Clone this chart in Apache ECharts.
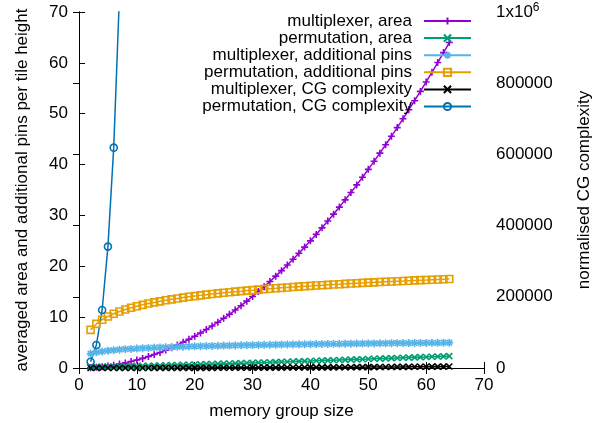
<!DOCTYPE html>
<html>
<head>
<meta charset="utf-8">
<script src="https://cdn.jsdelivr.net/npm/echarts@6/dist/echarts.min.js"></script>
<style>
  html, body { margin: 0; padding: 0; background: #fff; }
  #chart { width: 608px; height: 423px; }
</style>
</head>
<body>
<div id="chart"></div>
<script>
// memory group size
const groupSize = [2, 3, 4, 5, 6, 7, 8, 9, 10, 11, 12, 13, 14, 15, 16, 17, 18, 19, 20,
  21, 22, 23, 24, 25, 26, 27, 28, 29, 30, 31, 32, 33, 34, 35, 36, 37, 38, 39, 40,
  41, 42, 43, 44, 45, 46, 47, 48, 49, 50, 51, 52, 53, 54, 55, 56, 57, 58, 59, 60,
  61, 62, 63, 64]

const muxArea = [0.06, 0.14, 0.25, 0.39, 0.56, 0.77, 1.0, 1.27, 1.56, 1.89, 2.25, 2.64, 3.06,
  3.52, 4.0, 4.52, 5.06, 5.64, 6.25, 6.89, 7.56, 8.27, 9.0, 9.77, 10.56, 11.39, 12.25,
  13.14, 14.06, 15.02, 16.0, 17.02, 18.06, 19.14, 20.25, 21.39, 22.56, 23.77, 25.0,
  26.27, 27.56, 28.89, 30.25, 31.64, 33.06, 34.52, 36.0, 37.52, 39.06, 40.64, 42.25,
  43.89, 45.56, 47.27, 49.0, 50.77, 52.56, 54.39, 56.25, 58.14, 60.06, 62.02, 64.0]

const permArea = [0.21, 0.23, 0.24, 0.26, 0.29, 0.31, 0.33, 0.36, 0.38, 0.41, 0.44, 0.47,
  0.5, 0.53, 0.56, 0.59, 0.62, 0.65, 0.68, 0.71, 0.75, 0.78, 0.81, 0.85, 0.88, 0.91,
  0.95, 0.98, 1.02, 1.05, 1.09, 1.12, 1.16, 1.2, 1.23, 1.27, 1.31, 1.35, 1.38, 1.42,
  1.46, 1.5, 1.53, 1.57, 1.61, 1.65, 1.69, 1.73, 1.77, 1.81, 1.85, 1.89, 1.93, 1.97,
  2.01, 2.05, 2.09, 2.13, 2.17, 2.21, 2.25, 2.29, 2.33]

const muxPins = [2.83, 3.08, 3.26, 3.4, 3.51, 3.61, 3.69, 3.76, 3.83, 3.89, 3.94, 3.99, 4.04,
  4.08, 4.12, 4.16, 4.19, 4.23, 4.26, 4.29, 4.32, 4.35, 4.37, 4.4, 4.42, 4.44, 4.47,
  4.49, 4.51, 4.53, 4.55, 4.57, 4.59, 4.61, 4.62, 4.64, 4.66, 4.67, 4.69, 4.7, 4.72,
  4.73, 4.75, 4.76, 4.78, 4.79, 4.8, 4.81, 4.83, 4.84, 4.85, 4.86, 4.87, 4.89, 4.9,
  4.91, 4.92, 4.93, 4.94, 4.95, 4.96, 4.97, 4.98]

const permPins = [7.5, 8.67, 9.5, 10.14, 10.67, 11.11, 11.5, 11.84, 12.14, 12.42, 12.67, 12.9,
  13.11, 13.31, 13.5, 13.67, 13.84, 14.0, 14.14, 14.28, 14.42, 14.55, 14.67, 14.79,
  14.9, 15.01, 15.11, 15.22, 15.31, 15.41, 15.5, 15.59, 15.67, 15.76, 15.84, 15.92,
  16.0, 16.07, 16.14, 16.22, 16.28, 16.35, 16.42, 16.48, 16.55, 16.61, 16.67, 16.73,
  16.79, 16.84, 16.9, 16.96, 17.01, 17.06, 17.11, 17.17, 17.22, 17.27, 17.31, 17.36,
  17.41, 17.45, 17.5]

// right axis (normalised CG complexity)
const muxCG = [4, 9, 16, 25, 36, 49, 64, 81, 100, 121, 144, 169, 196, 225, 256, 289, 324,
  361, 400, 441, 484, 529, 576, 625, 676, 729, 784, 841, 900, 961, 1024, 1089, 1156,
  1225, 1296, 1369, 1444, 1521, 1600, 1681, 1764, 1849, 1936, 2025, 2116, 2209, 2304,
  2401, 2500, 2601, 2704, 2809, 2916, 3025, 3136, 3249, 3364, 3481, 3600, 3721, 3844,
  3969, 4096]

// only the first points stay inside the plot
const permCG = [17700, 64600, 163000, 341000, 619000, 1050000, 1600000]

const font = 'Liberation Sans, Arial, sans-serif'
const fs = 17

const pts = (ys) => ys.map((y, i) => [groupSize[i], y])

const sym = {
  plus: 'path://M5,0V10M0,5H10',
  cross: 'path://M0,0L10,10M0,10L10,0',
  star: 'path://M5,0V10M0,5H10M1.5,1.5L8.5,8.5M1.5,8.5L8.5,1.5',
  square: 'path://M0,0H10V10H0Z',
  circle: 'path://M10,5A5,5 0 1,1 0,5A5,5 0 1,1 10,5Z'
}

const mk = (name, data, color, symbol, size, yIdx) => ({
  name: name,
  type: 'line',
  yAxisIndex: yIdx,
  data: data,
  symbol: symbol,
  symbolSize: size,
  showAllSymbol: true,
  animation: false,
  lineStyle: { color: color, width: 1.5 },
  itemStyle: { color: 'rgba(0,0,0,0)', borderColor: color, borderWidth: 1.6 },
  emphasis: { disabled: true }
})

const series = [
  mk('multiplexer, area', pts(muxArea), '#9400d3', sym.plus, 7, 0),
  mk('permutation, area', pts(permArea), '#009e73', sym.cross, 6, 0),
  mk('multiplexer, additional pins', pts(muxPins), '#56b4e9', sym.star, 8, 0),
  mk('permutation, additional pins', pts(permPins), '#e69f00', sym.square, 7, 0),
  mk('multiplexer, CG complexity', pts(muxCG), '#000000', sym.cross, 6, 1),
  mk('permutation, CG complexity', pts(permCG), '#0072b2', sym.circle, 7, 1)
]

const legends = series.map((s, i) => ({
  data: [s.name],
  orient: 'vertical',
  align: 'right',
  right: 136,
  top: 12.5 + i * 17.1,
  padding: 0,
  itemWidth: 47,
  itemHeight: 9,
  selectedMode: false,
  textStyle: { color: '#000', fontSize: fs, fontFamily: font, padding: [0, 7, 0, 0] }
}))

const tickStyle = { inside: true, length: 6, lineStyle: { color: '#000', width: 1 } }
const lineStyle = { show: true, lineStyle: { color: '#000', width: 1 } }
const lbl = { color: '#000', fontSize: fs, fontFamily: font }

const chart = echarts.init(document.getElementById('chart'))

chart.setOption({
  backgroundColor: '#fff',
  animation: false,
  legend: legends,
  grid: { left: 79, right: 124, top: 12, bottom: 55, outerBoundsMode: 'none', containLabel: false },
  xAxis: [
    {
      type: 'value', min: 0, max: 70, interval: 10,
      name: 'memory group size', nameLocation: 'middle', nameGap: 35,
      nameTextStyle: lbl,
      axisLine: lineStyle, axisTick: tickStyle,
      axisLabel: Object.assign({ margin: 9 }, lbl),
      splitLine: { show: false }
    },
    {
      type: 'value', min: 0, max: 70, interval: 10, position: 'top',
      axisLine: lineStyle, axisTick: tickStyle,
      axisLabel: { show: false }, splitLine: { show: false }
    }
  ],
  yAxis: [
    {
      type: 'value', min: 0, max: 70, interval: 10,
      name: 'averaged area and additional pins per tile height',
      nameLocation: 'middle', nameGap: 48, nameRotate: 90,
      nameTextStyle: lbl,
      axisLine: lineStyle, axisTick: tickStyle,
      axisLabel: Object.assign({ margin: 11 }, lbl),
      splitLine: { show: false }
    },
    {
      type: 'value', min: 0, max: 1000000, interval: 200000, position: 'right',
      name: 'normalised CG complexity',
      nameLocation: 'middle', nameGap: 92, nameRotate: 90,
      nameTextStyle: lbl,
      axisLine: lineStyle, axisTick: tickStyle,
      axisLabel: Object.assign({
        margin: 12,
        formatter: (v) => v === 1000000 ? '1x10{sup|6}' : String(v),
        rich: {
          sup: { fontSize: 12, fontFamily: font, color: '#000', padding: [0, 0, 9, 0] }
        }
      }, lbl),
      splitLine: { show: false }
    }
  ],
  series: series
})
</script>
</body>
</html>
